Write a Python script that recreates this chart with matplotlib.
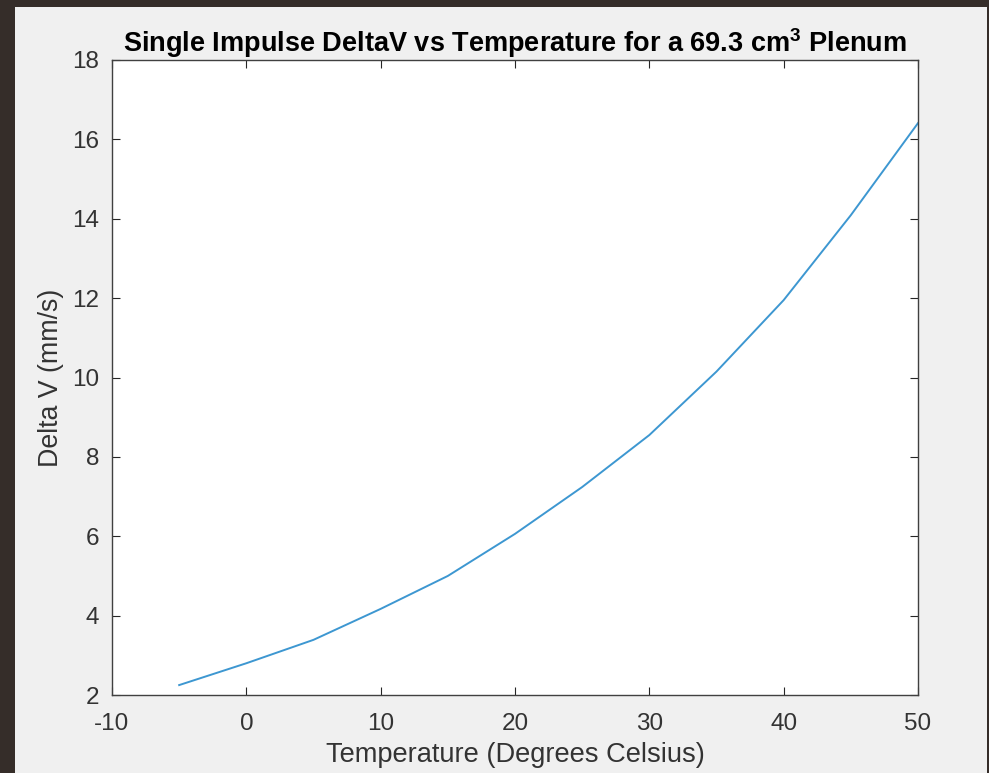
import matplotlib
matplotlib.use("Agg")
import matplotlib.pyplot as plt
from matplotlib.patches import Rectangle

temperature = [-5, 0, 5, 10, 15, 20, 25, 30, 35, 40, 45, 50]
delta_v = [2.25, 2.80, 3.39, 4.17, 5.00, 6.06, 7.24, 8.55, 10.15, 11.95, 14.09, 16.41]
x_ticks = [-10, 0, 10, 20, 30, 40, 50]
y_ticks = [2, 4, 6, 8, 10, 12, 14, 16, 18]

plt.rcParams['font.family'] = ['Liberation Sans', 'DejaVu Sans']
plt.rcParams['mathtext.fontset'] = 'custom'
plt.rcParams['mathtext.rm'] = 'Liberation Sans'
plt.rcParams['mathtext.bf'] = 'Liberation Sans:bold'
plt.rcParams['axes.unicode_minus'] = False

W, H = 989, 773
fig = plt.figure(figsize=(W / 100, H / 100), dpi=100, facecolor='#f0f0f0')

# dark outer frame (screenshot border)
frame_col = '#352d29'
fig.patches.append(Rectangle((0, 1 - 7 / H), 1, 7 / H, transform=fig.transFigure,
                             facecolor=frame_col, edgecolor='none', zorder=-1))
fig.patches.append(Rectangle((0, 0), 15 / W, 1, transform=fig.transFigure,
                             facecolor=frame_col, edgecolor='none', zorder=-1))
fig.patches.append(Rectangle((1 - 2 / W, 0), 2 / W, 1, transform=fig.transFigure,
                             facecolor=frame_col, edgecolor='none', zorder=-1))

left, right, top, bottom = 112, 918, 60, 695
ax = fig.add_axes([left / W, 1 - bottom / H, (right - left) / W, (bottom - top) / H])
ax.set_facecolor('white')

ax.plot(temperature, delta_v, color='#3d97d1', linewidth=1.4)

ax.set_xlim(-10, 50)
ax.set_ylim(2, 18)
ax.set_xticks(x_ticks)
ax.set_yticks(y_ticks)

tick_col = '#262626'
ax.tick_params(axis='both', which='major', direction='in', length=5.5, width=0.8,
               colors=tick_col, labelcolor='#333333', labelsize=17.5,
               top=True, right=True, pad=9)
ax.tick_params(axis='x', pad=13)
for s in ax.spines.values():
    s.set_color('#404040')
    s.set_linewidth(1.0)

ax.set_title(r'Single Impulse DeltaV vs Temperature for a 69.3 cm$^{\mathbf{3}}$ Plenum',
             fontsize=19.5, fontweight='bold', color='black', pad=6)
ax.set_xlabel('Temperature (Degrees Celsius)', fontsize=19.6, color='#333333', labelpad=5)
ax.set_ylabel('Delta V (mm/s)', fontsize=19.3, color='#333333', labelpad=6)

fig.savefig('out.png', dpi=100, facecolor=fig.get_facecolor())
